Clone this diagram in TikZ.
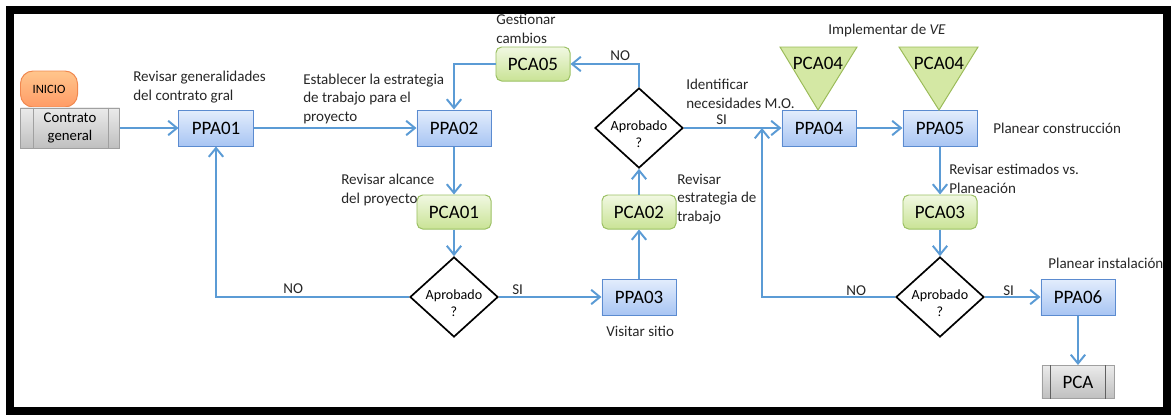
\documentclass[tikz,border=0pt]{standalone}
\usepackage{fontspec}
\setmainfont{Carlito}
\usetikzlibrary{arrows.meta,shapes.geometric}

\definecolor{flujo}{HTML}{5B9BD5}
\definecolor{ppaborde}{HTML}{5B8BD0}
\definecolor{ppaarriba}{HTML}{E3EDFC}
\definecolor{ppaabajo}{HTML}{A8C5F3}
\definecolor{pcaborde}{HTML}{9BC063}
\definecolor{pcaarriba}{HTML}{F1F8E2}
\definecolor{pcaabajo}{HTML}{C9E395}
\definecolor{triborde}{HTML}{9BBB59}
\definecolor{trifondo}{HTML}{D4E8A4}
\definecolor{grisborde}{HTML}{A0A0A0}
\definecolor{inicioborde}{HTML}{F0884F}

\begin{document}
\begin{tikzpicture}[x=0.025cm,y=-0.025cm,
    >={Straight Barb[length=2.2mm,width=3.6mm]},
    ppa/.style={draw=ppaborde,line width=0.7pt,top color=ppaarriba,bottom color=ppaabajo,
      minimum width=1.85cm,minimum height=0.9cm,inner sep=0pt,font=\fontsize{13.5}{15}\selectfont},
    pca/.style={draw=pcaborde,line width=0.7pt,rounded corners=4pt,top color=pcaarriba,bottom color=pcaabajo,
      minimum width=1.85cm,minimum height=0.85cm,inner sep=0pt,font=\fontsize{13.5}{15}\selectfont},
    decision/.style={diamond,draw,line width=1.2pt,fill=white,aspect=1.1,inner sep=0pt,
      minimum width=2.2cm,minimum height=2cm,
      label={[align=center,inner sep=0pt,yshift=-0.15cm,font=\fontsize{10}{12}\selectfont]center:#1}},
    predef/.style={draw=grisborde,line width=0.7pt,top color=black!8,bottom color=black!25,inner sep=0pt,align=center},
    nota/.style={anchor=base west,align=left,inner sep=0pt,font=\fontsize{10.7}{13}\selectfont,text=black!85},
    flujo/.style={draw=flujo,line width=1.4pt,->}
  ]

  % marco
  \useasboundingbox (0,0) rectangle (1173,416);
  \draw[line width=0.2cm] (10,10) rectangle (1167,411);

  % inicio
  \node[draw=inicioborde,line width=0.7pt,rounded corners=9pt,top color=orange!45,bottom color=orange!70!red!60,
        minimum width=1.425cm,minimum height=0.9cm,font=\fontsize{9}{11}\selectfont] (ini) at (49,89) {INICIO};
  \node[predef,minimum width=2.475cm,minimum height=1cm,font=\fontsize{10.5}{13}\selectfont] (cg) at (70,128) {Contrato\\general};
  \draw[grisborde,line width=0.7pt] ([xshift=0.325cm]cg.north west) -- ([xshift=0.325cm]cg.south west)
                                    ([xshift=-0.3cm]cg.north east) -- ([xshift=-0.3cm]cg.south east);

  % procesos
  \node[ppa] (P1) at (216,128) {PPA01};
  \node[ppa] (P2) at (454,128) {PPA02};
  \node[pca] (C5) at (533,64)  {PCA05};
  \node[pca] (C1) at (454,212) {PCA01};
  \node[decision={Aprobado\\?}] (D2) at (454,297) {};
  \node[ppa] (P3) at (639,297) {PPA03};
  \node[pca] (C2) at (639,212) {PCA02};
  \node[decision={Aprobado\\?}] (D1) at (639,128) {};
  \node[ppa] (P4) at (819,128) {PPA04};
  \node[ppa] (P5) at (940,128) {PPA05};
  \node[pca] (C3) at (940,212) {PCA03};
  \node[decision={Aprobado\\?}] (D3) at (940,297) {};
  \node[ppa] (P6) at (1078,297) {PPA06};
  \node[predef,minimum width=1.8cm,minimum height=0.825cm,font=\fontsize{13.5}{15}\selectfont] (fin) at (1078,382) {PCA};
  \draw[grisborde!60!black,line width=0.7pt] ([xshift=0.225cm]fin.north west) -- ([xshift=0.225cm]fin.south west)
                                            ([xshift=-0.225cm]fin.north east) -- ([xshift=-0.225cm]fin.south east);

  % triangulos PCA04
  \draw[draw=triborde,line width=0.7pt,fill=trifondo] (780,47) -- (857,47) -- (818,110) -- cycle;
  \draw[draw=triborde,line width=0.7pt,fill=trifondo] (899,47) -- (978,47) -- (939,110) -- cycle;
  \node[font=\fontsize{13.5}{15}\selectfont] (T1) at (818,63) {PCA04};
  \node[font=\fontsize{13.5}{15}\selectfont] (T2) at (939,63) {PCA04};

  \coordinate (j4) at (762,128);

  % conectores
  \path[flujo] (cg) edge (P1)
               (P1) edge (P2)
               (P2) edge (C1)
               (C1) edge (D2)
               (D2) edge (P3)
               (P3) edge (C2)
               (C2) edge (D1)
               (D1) edge (P4)
               (P4) edge (P5)
               (P5) edge (C3)
               (C3) edge (D3)
               (D3) edge (P6)
               (P6) edge (fin);
  \draw[flujo] (C5.west) -| (P2.north);
  \draw[flujo] (D1.north) |- (C5.east);
  \draw[flujo] (D2.west) -| (P1.south);
  \draw[flujo] (D3.west) -| (j4);

  % textos (base = ultima linea)
  \node[nota] (n1)  at (133,100) {Revisar generalidades\\del contrato gral};
  \node[nota] (n2)  at (303,121) {Establecer la estrategia\\de trabajo para el\\proyecto};
  \node[nota] (n3)  at (496,43)  {Gestionar\\cambios};
  \node[nota] (n4)  at (686,108) {Identificar\\necesidades M.O.};
  \node[nota] (n5)  at (828,34)  {Implementar de \textit{VE}};
  \node[nota] (n6)  at (993,133) {Planear construcción};
  \node[nota] (n7)  at (949,193) {Revisar estimados vs.\\Planeación};
  \node[nota] (n8)  at (341,203) {Revisar alcance\\del proyecto};
  \node[nota] (n9)  at (677,221) {Revisar\\estrategia de\\trabajo};
  \node[nota] (n10) at (606,336) {Visitar sitio};
  \node[nota] (n11) at (1048,268) {Planear instalación};
  \node[nota] (no1) at (610,60)  {NO};
  \node[nota] (si1) at (716,124) {SI};
  \node[nota] (no2) at (283,293) {NO};
  \node[nota] (si2) at (512,294) {SI};
  \node[nota] (no3) at (846,295) {NO};
  \node[nota] (si3) at (1003,295) {SI};
\end{tikzpicture}
\end{document}
